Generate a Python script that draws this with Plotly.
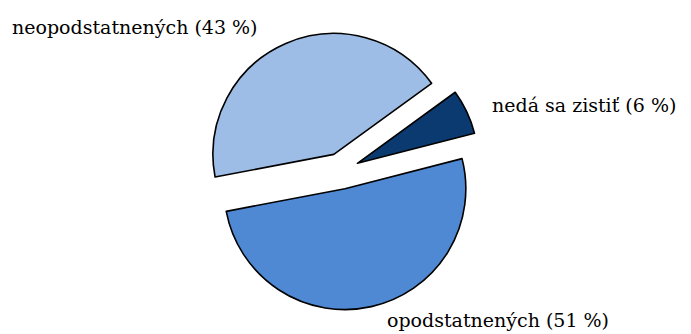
import plotly.graph_objects as go

# Answer shares (percent), listed counter-clockwise from the first slice
labels = ["nedá sa zistiť", "neopodstatnených", "opodstatnených"]
shares = [6, 43, 51]
colors = ["#0b3a70", "#9dbde6", "#4f89d4"]

W, H = 691, 334
ML, MR, MT, MB = 0, 0, 32, 24

fig = go.Figure(
    go.Pie(
        labels=labels,
        values=shares,
        sort=False,
        direction="counterclockwise",
        rotation=54,
        pull=[0.15, 0.15, 0.15],
        marker=dict(colors=colors, line=dict(color="black", width=1.6)),
        textinfo="none",
        hoverinfo="label+percent",
        domain=dict(x=[0.2, 0.787], y=[0, 1]),
        showlegend=False,
    )
)

# Slice captions placed around the pie
label_pos = [(490, 105, "left"), (10, 27, "left"), (385, 320, "left")]
for name, val, (px, py, anchor) in zip(labels, shares, label_pos):
    fig.add_annotation(
        text=f"{name} ({val} %)",
        xref="paper", yref="paper",
        x=(px - ML) / (W - ML - MR),
        y=(H - MB - py) / (H - MT - MB),
        xanchor=anchor, yanchor="middle",
        showarrow=False,
        font=dict(family="DejaVu Serif", size=19, color="black"),
    )

fig.update_layout(
    width=W, height=H,
    margin=dict(l=ML, r=MR, t=MT, b=MB),
    paper_bgcolor="white",
    plot_bgcolor="white",
)

fig.write_html("out.html")
